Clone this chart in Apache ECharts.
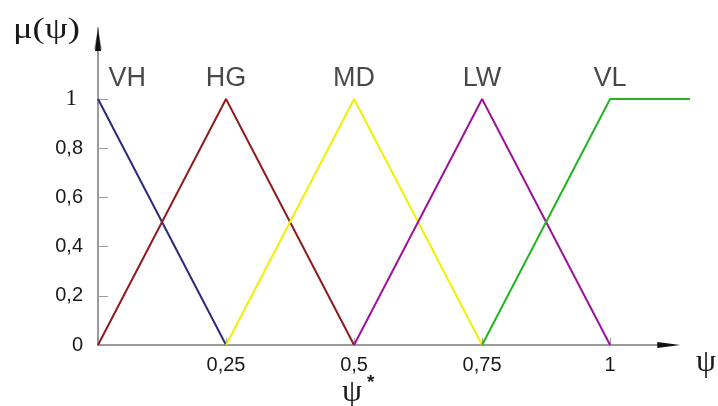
<!DOCTYPE html>
<html><head><meta charset="utf-8">
<script src="https://cdn.jsdelivr.net/npm/echarts@6/dist/echarts.min.js"></script>
<style>html,body{margin:0;padding:0;background:#fff}#c{width:718px;height:406px}</style>
</head><body><div id="c"></div>
<script>
var names = ['VH','HG','MD','LW','VL'];
var colors = ['#2a2a7c','#8e1c1c','#f2f000','#9c139c','#22b422'];
var VH = [[0,1],[0.25,0]];
var HG = [[0,0],[0.25,1],[0.5,0]];
var MD = [[0.25,0],[0.5,1],[0.75,0]];
var LW = [[0.5,0],[0.75,1],[1,0]];
var VL = [[0.75,0],[1,1],[1.156,1]];
var labelPos = [[0.057,1.085],[0.25,1.085],[0.5,1.085],[0.75,1.085],[1,1.085]];
var xTicks = [0.25,0.5,0.75,1];
var yTicks = [0,0.2,0.4,0.6,0.8,1];
var xAxisEnd = 1.137;
var seriesData = [VH,HG,MD,LW,VL];

var chart = echarts.init(document.getElementById('c'));
var series = seriesData.map(function(d,i){
  return {type:'line', data:d, symbol:'none', silent:true,
    lineStyle:{color:colors[i], width:2}, z:3};
});
series.push({type:'scatter', symbolSize:0, silent:true, z:4,
  data: labelPos.map(function(p,i){return {value:p, name:names[i]};}),
  label:{show:true, position:'inside', formatter:'{b}', color:'#1a1a1a',
    fontFamily:'Liberation Sans, Arial, sans-serif', fontSize:27}
});
chart.setOption({
  animation:false,
  grid:{left:98, top:28, right:28, bottom:61},
  xAxis:{type:'value', min:0, max:1.156,
    axisLine:{show:false},
    axisTick:{show:true, inside:true, length:7, customValues:xTicks, lineStyle:{color:'#9a9a9a', width:1}},
    axisLabel:{customValues:xTicks, margin:10, color:'#1a1a1a', fontSize:20,
      fontFamily:'Liberation Sans, Arial, sans-serif',
      formatter:function(v){return String(v).replace('.',',');}},
    splitLine:{show:false}},
  yAxis:{type:'value', min:0, max:1.289,
    axisLine:{show:true, onZero:false, symbol:['none','arrow'], symbolSize:[6,22],
      lineStyle:{color:'#9a9a9a', width:2}},
    axisTick:{show:true, inside:true, length:10, customValues:yTicks, lineStyle:{color:'#9a9a9a', width:1}},
    axisLabel:{customValues:yTicks, margin:15, color:'#1a1a1a', fontSize:20,
      fontFamily:'Liberation Sans, Arial, sans-serif',
      formatter:function(v){ if(v===1) return '{s|1}'; return String(v).replace('.',','); },
      rich:{s:{fontFamily:'Liberation Serif, Times New Roman, serif', fontSize:23, color:'#1a1a1a', padding:[0,6,0,0]}}},
    splitLine:{show:false}},
  series:series
});
var o = chart.convertToPixel({gridIndex:0}, [0,0]);
var e = chart.convertToPixel({gridIndex:0}, [xAxisEnd,0]);
var yTop = chart.convertToPixel({gridIndex:0}, [0,1.289]);
chart.setOption({graphic:[
  {type:'line', shape:{x1:o[0]-1, y1:o[1], x2:e[0]-20, y2:o[1]}, style:{stroke:'#9a9a9a', lineWidth:2}, z:1},
  {type:'polygon', shape:{points:[[e[0]-23,o[1]-3],[e[0],o[1]],[e[0]-23,o[1]+3]]}, style:{fill:'#111'}, z:10},
  {type:'polygon', shape:{points:[[o[0]-3,yTop[1]+23],[o[0],yTop[1]],[o[0]+3,yTop[1]+23]]}, style:{fill:'#111'}, z:10},
  {type:'text', left:13, top:15, scaleX:1.22, style:{text:'μ(ψ)', font:'30px "Liberation Serif", serif', fill:'#1a1a1a'}},
  {type:'text', left:696, top:347, style:{text:'ψ', font:'32px "Liberation Serif", serif', fill:'#1a1a1a'}},
  {type:'text', left:342, top:377, style:{text:'ψ', font:'32px "Liberation Serif", serif', fill:'#1a1a1a'}},
  {type:'text', left:367, top:373, style:{text:'*', font:'bold 19px "Liberation Sans", sans-serif', fill:'#1a1a1a'}}
]});
</script></body></html>
